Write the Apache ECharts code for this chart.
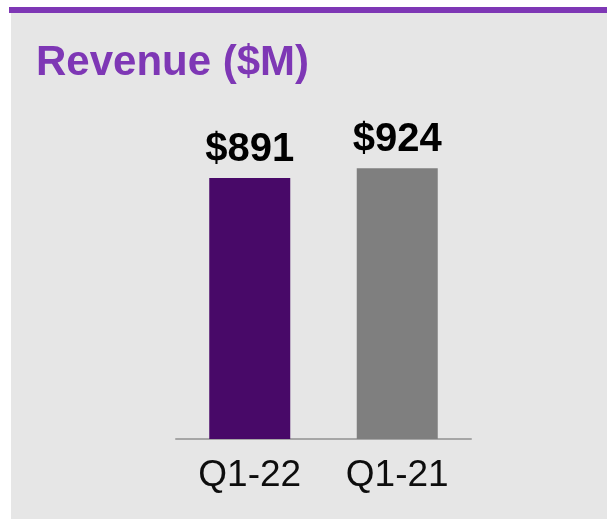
<!DOCTYPE html>
<html>
<head>
<meta charset="utf-8">
<script src="https://cdn.jsdelivr.net/npm/echarts@6/dist/echarts.min.js"></script>
<style>
  html, body { margin: 0; padding: 0; background: #ffffff; }
  #chart { width: 607px; height: 519px; }
</style>
</head>
<body>
<div id="chart"></div>
<script>
// 数据
const categories = ['Q1-22', 'Q1-21']
const revenue = [891, 924]
const barColors = ['#480968', '#7f7f7f']

const chart = echarts.init(document.getElementById('chart'))

chart.setOption({
  backgroundColor: '#ffffff',
  animation: false,
  graphic: [
    // 灰色面板
    { type: 'rect', left: 11, top: 13, shape: { width: 596, height: 506 }, style: { fill: '#e6e6e6' }, z: -10 },
    // 顶部紫线
    { type: 'rect', left: 9, top: 7, shape: { width: 598, height: 6 }, style: { fill: '#7e37b5' }, z: -10 }
  ],
  title: {
    text: 'Revenue ($M)',
    left: 31,
    top: 37,
    textStyle: {
      color: '#7e37b5',
      fontFamily: 'Liberation Sans, Arial, sans-serif',
      fontWeight: 'bold',
      fontSize: 42
    }
  },
  grid: {
    left: 176,
    width: 295,
    top: 146,
    bottom: 80
  },
  xAxis: {
    type: 'category',
    data: categories,
    axisTick: { show: false },
    axisLine: { lineStyle: { color: '#a6a6a6', width: 2 } },
    axisLabel: {
      margin: 18,
      color: '#0d0d0d',
      fontSize: 37,
      fontFamily: 'Liberation Sans, Arial, sans-serif'
    }
  },
  yAxis: {
    type: 'value',
    min: 0,
    max: 1000,
    show: false,
    splitLine: { show: false }
  },
  series: [{
    type: 'bar',
    barWidth: 81,
    data: revenue.map((v, i) => ({ value: v, itemStyle: { color: barColors[i] } })),
    label: {
      show: true,
      position: 'top',
      distance: 8,
      formatter: p => '$' + p.value,
      color: '#000000',
      fontSize: 40,
      fontWeight: 'bold',
      fontFamily: 'Liberation Sans, Arial, sans-serif'
    }
  }]
})
</script>
</body>
</html>
